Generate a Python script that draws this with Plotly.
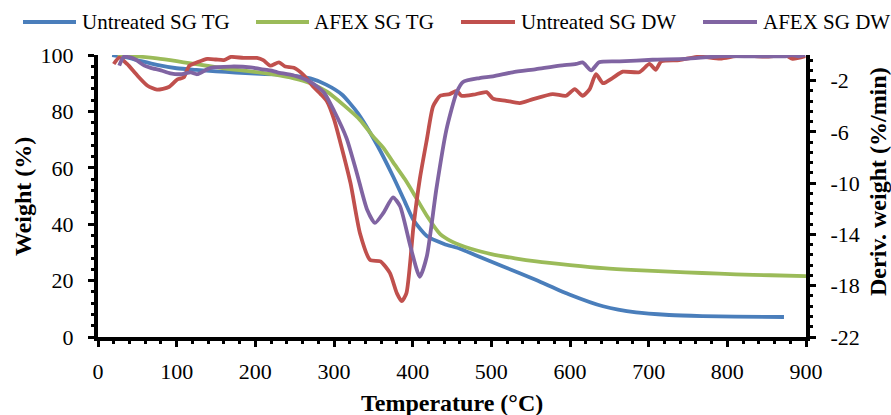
import plotly.graph_objects as go

# ---------------- data ----------------
temp_ut_tg = [18, 35, 55, 75, 100, 125, 150, 175, 200, 225, 250, 270, 290, 310, 330, 355, 375, 390,
              401, 418, 440, 460, 480, 515, 557, 600, 642, 684, 726, 768, 810, 872]
weight_ut_tg = [100, 99.2, 97.8, 96.5, 95.3, 94.7, 94.2, 93.8, 93.4, 93.1, 92.6, 91.7, 89.5, 86, 79.5, 68,
                57, 48, 41.5, 35.8, 33, 31.3, 29, 25, 20.2, 15, 10.9, 8.7, 7.8, 7.4, 7.2, 7.1]

temp_afex_tg = [25, 50, 75, 100, 118, 140, 160, 180, 202, 225, 249, 270, 291, 312, 333, 350, 363, 375,
                390, 401, 418, 435, 450, 460, 473, 500, 530, 557, 600, 642, 684, 726, 768, 811, 855, 900]
weight_afex_tg = [100, 99.5, 98.8, 97.8, 97, 96.1, 95.3, 94.6, 93.9, 93, 91.7, 90, 87, 82.3, 77, 71, 67, 62,
                  56, 51, 43, 36.5, 33.8, 32.6, 31.4, 29.4, 27.9, 26.8, 25.5, 24.4, 23.7, 23.2, 22.7, 22.2,
                  21.9, 21.6]

temp_ut_dw = [20, 27, 37, 50, 63, 75, 90, 101, 109, 116, 126, 139, 150, 160, 169, 185, 202, 210, 219, 230,
              238, 249, 262, 274, 283, 291, 300, 308, 321, 333, 346, 359, 371, 380, 386, 392, 401, 409, 418,
              426, 435, 447, 456, 462, 477, 494, 502, 519, 536, 553, 578, 595, 606, 616, 625, 633, 642, 654,
              667, 688, 701, 709, 716, 739, 764, 791, 815, 849, 874, 883, 899]
deriv_ut_dw = [-0.7, -0.2, -0.7, -1.6, -2.4, -2.7, -2.5, -1.9, -1.75, -0.85, -0.57, -0.3, -0.35, -0.4, -0.15,
               -0.23, -0.23, -0.4, -0.83, -0.57, -0.9, -1.0, -1.6, -2.5, -3.05, -3.6, -5.0, -6.8, -10, -13.9,
               -16, -16.1, -17, -18.6, -19.2, -18.6, -13.4, -9.7, -6.6, -4.0, -3.18, -3.05, -2.8, -3.18, -3.1,
               -2.9, -3.4, -3.57, -3.75, -3.44, -3.05, -3.18, -2.66, -3.18, -2.66, -1.5, -2.2, -1.8, -1.3,
               -1.35, -0.7, -1.15, -0.5, -0.4, -0.13, -0.28, -0.05, -0.13, -0.02, -0.3, -0.1]

temp_afex_dw = [27, 33, 46, 59, 67, 80, 92, 105, 118, 126, 143, 169, 194, 207, 219, 228, 249, 270, 287, 300,
                316, 329, 342, 352, 363, 375, 384, 397, 409, 418, 430, 443, 456, 464, 485, 502, 527, 557, 587,
                608, 616, 627, 637, 663, 705, 747, 790, 832, 874, 882, 891, 899]
deriv_afex_dw = [-0.83, -0.13, -0.3, -0.83, -1.0, -1.2, -1.43, -1.5, -1.35, -1.5, -1.0, -0.9, -0.96, -1.1,
                 -1.2, -1.35, -1.6, -2.1, -2.9, -4.35, -6.5, -9.2, -12.05, -13.1, -12.3, -11.1, -11.8, -14.9,
                 -17.3, -15.7, -10.5, -5.8, -2.9, -2.1, -1.8, -1.66, -1.35, -1.1, -0.83, -0.7, -0.57, -1.2,
                 -0.57, -0.5, -0.37, -0.3, -0.1, -0.1, -0.1, 0, -0.1, 0]

series_names = ["Untreated SG TG", "AFEX SG TG", "Untreated SG DW", "AFEX SG DW"]
series_colors = ["#4A7EBB", "#9BBB59", "#C0504D", "#8064A2"]

x_ticks = [0, 100, 200, 300, 400, 500, 600, 700, 800, 900]
y_left_ticks = [0, 20, 40, 60, 80, 100]
y_right_ticks = [-22, -18, -14, -10, -6, -2]

# ---------------- layout geometry (pixels) ----------------
W, H = 891, 415
PL, PR, PT, PB = 98, 806, 55, 337
FONT = "Liberation Serif, Times New Roman, serif"


def px(x):
    return (x - PL) / (PR - PL)


def py(y):
    return (PB - y) / (PB - PT)


fig = go.Figure()
data = [
    (temp_ut_tg, weight_ut_tg, "y"),
    (temp_afex_tg, weight_afex_tg, "y"),
    (temp_ut_dw, deriv_ut_dw, "y2"),
    (temp_afex_dw, deriv_afex_dw, "y2"),
]
for (t, v, ax), name, col in zip(data, series_names, series_colors):
    fig.add_trace(go.Scatter(x=t, y=v, yaxis=ax, name=name, mode="lines",
                             line=dict(color=col, width=3.8, shape="spline", smoothing=0.6),
                             showlegend=False))

# custom legend (Excel style long line samples)
leg_y = 22
leg_items = [(23, 76, 80), (256, 309, 312), (461, 515, 519), (703, 757, 761)]
for (x0, x1, xt), name, col in zip(leg_items, series_names, series_colors):
    fig.add_shape(type="line", xref="paper", yref="paper", x0=px(x0), x1=px(x1),
                  y0=py(leg_y), y1=py(leg_y), line=dict(color=col, width=4))
    fig.add_annotation(text=name, xref="paper", yref="paper", x=px(xt), y=py(leg_y),
                       xanchor="left", yanchor="middle", showarrow=False,
                       font=dict(family=FONT, size=21, color="black"))

axis_common = dict(showline=True, linecolor="black", linewidth=4, ticks="outside",
                   ticklen=6, tickwidth=3, tickcolor="black", showgrid=False, zeroline=False,
                   tickfont=dict(family=FONT, size=22, color="black"))

fig.update_layout(
    width=W, height=H,
    margin=dict(l=PL, r=W - PR, t=PT, b=H - PB),
    paper_bgcolor="white", plot_bgcolor="white",
    font=dict(family=FONT, color="black"),
    xaxis=dict(range=[0, 900], tickvals=x_ticks, ticktext=[str(v) for v in x_ticks],
               minor=dict(ticks="outside", ticklen=3, tickwidth=3, tickcolor="black", dtick=20, tick0=0),
               ticklabelstandoff=6, **axis_common),
    yaxis=dict(range=[0, 100], tickvals=y_left_ticks, ticktext=[str(v) for v in y_left_ticks],
               minor=dict(ticks="outside", ticklen=3, tickwidth=3, tickcolor="black", dtick=4, tick0=0),
               ticklabelstandoff=10, **axis_common),
    yaxis2=dict(range=[-22, 0], tickvals=y_right_ticks, ticktext=[str(v) for v in y_right_ticks],
                overlaying="y", side="right",
                minor=dict(ticks="outside", ticklen=3, tickwidth=3, tickcolor="black", dtick=0.8, tick0=-22),
                ticklabelstandoff=10, **axis_common),
)

# axis titles
fig.add_annotation(text="<b>Temperature (°C)</b>", xref="paper", yref="paper", x=0.5, y=py(403),
                   xanchor="center", yanchor="middle", showarrow=False,
                   font=dict(family=FONT, size=24, color="black"))
fig.add_annotation(text="<b>Weight (%)</b>", xref="paper", yref="paper", x=px(23), y=py(197),
                   xanchor="center", yanchor="middle", showarrow=False, textangle=-90,
                   font=dict(family=FONT, size=24, color="black"))
fig.add_annotation(text="<b>Deriv. weight (%/min)</b>", xref="paper", yref="paper", x=px(878), y=py(182),
                   xanchor="center", yanchor="middle", showarrow=False, textangle=-90,
                   font=dict(family=FONT, size=24, color="black"))

fig.write_html("out.html", config={"displayModeBar": False},
               post_script="document.body.style.margin='0';document.body.style.padding='0';"
                           "document.documentElement.style.overflow='hidden';")
